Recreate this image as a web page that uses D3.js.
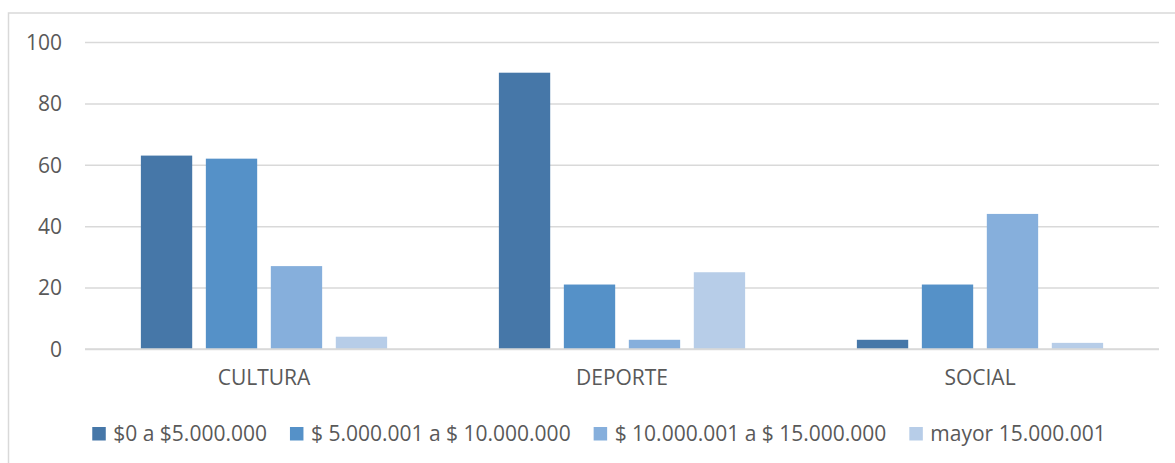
<!DOCTYPE html>
<html>
<head>
<meta charset="utf-8">
<script src="https://cdn.jsdelivr.net/npm/d3@7"></script>
<style>
  html, body { margin: 0; padding: 0; background: #fff; }
  svg { display: block; }
  text { font-family: "Open Sans", "Liberation Sans", sans-serif; fill: #595959; }
</style>
</head>
<body>
<svg id="chart" width="1175" height="463"></svg>
<script>
const categories = ["CULTURA", "DEPORTE", "SOCIAL"];
const seriesNames = ["$0 a $5.000.000", "$ 5.000.001 a $ 10.000.000", "$ 10.000.001 a $ 15.000.000", "mayor 15.000.001"];
const series1 = [63, 90, 3];
const series2 = [62, 21, 21];
const series3 = [27, 3, 44];
const series4 = [4, 25, 2];
const yTicks = [0, 20, 40, 60, 80, 100];
const colors = ["#4677a8", "#5591c8", "#86afdc", "#b7cde8"];

const seriesValues = [series1, series2, series3, series4];

const svg = d3.select("#chart");
const W = 1175, H = 463;
const FS = "21px";

// chart border
svg.append("rect")
  .attr("x", 8.5).attr("y", 13)
  .attr("width", W + 10).attr("height", H + 10)
  .attr("fill", "#fff").attr("stroke", "#d9d9d9").attr("stroke-width", 1.5);

const plot = { left: 85, right: 1159, top: 42, bottom: 349 };

const x0 = d3.scaleBand().domain(categories).range([plot.left, plot.right]).paddingInner(0).paddingOuter(0);
const x1 = d3.scaleBand().domain(d3.range(4)).range([0, x0.bandwidth()]).paddingInner(0.21).paddingOuter(0.86);
const y = d3.scaleLinear().domain([0, 100]).range([plot.bottom, plot.top]);

// gridlines
const yAxis = d3.axisLeft(y).tickValues(yTicks).tickSize(-(plot.right - plot.left)).tickPadding(23);
const gy = svg.append("g").attr("transform", `translate(${plot.left},0)`).call(yAxis);
gy.select(".domain").remove();
gy.selectAll(".tick line").attr("stroke", "#d9d9d9").attr("stroke-width", 1.5);
gy.selectAll(".tick text").style("font-size", FS).attr("fill", "#595959").attr("dy", "0.35em");

// bars
const groups = svg.append("g").selectAll("g")
  .data(categories)
  .join("g")
  .attr("transform", d => `translate(${x0(d)},0)`);

groups.selectAll("rect")
  .data((c, ci) => seriesValues.map((s, si) => ({ si, v: s[ci] })))
  .join("rect")
  .attr("x", d => x1(d.si))
  .attr("width", x1.bandwidth())
  .attr("y", d => y(d.v))
  .attr("height", d => y(0) - y(d.v))
  .attr("fill", d => colors[d.si]);

// baseline
svg.append("line")
  .attr("x1", plot.left).attr("x2", plot.right)
  .attr("y1", y(0)).attr("y2", y(0))
  .attr("stroke", "#d9d9d9").attr("stroke-width", 1.5);

// x axis labels
const xAxis = d3.axisBottom(x0).tickSize(0).tickPadding(21);
const gx = svg.append("g").attr("transform", `translate(0,${y(0)})`).call(xAxis);
gx.select(".domain").remove();
gx.selectAll(".tick text").style("font-size", FS).attr("fill", "#595959");

// legend
const legend = svg.append("g");
let cx = 0;
seriesNames.forEach((name, i) => {
  const g = legend.append("g");
  g.append("rect").attr("x", 0).attr("y", -6.5).attr("width", 13.5).attr("height", 13.5).attr("fill", colors[i]);
  const t = g.append("text").attr("x", 21).attr("y", 0).attr("dy", "0.35em").style("font-size", FS).text(name);
  const w = 21 + t.node().getComputedTextLength();
  g.attr("transform", `translate(${cx},0)`);
  cx += w + 23;
});
const totalW = cx - 23;
legend.attr("transform", `translate(${599 - totalW / 2},433.5)`);
</script>
</body>
</html>
